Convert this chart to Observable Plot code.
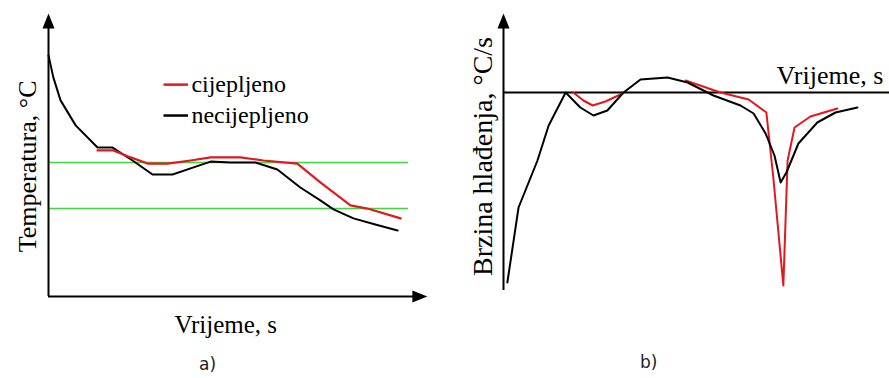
<!DOCTYPE html>
<html>
<head>
<meta charset="utf-8">
<script src="https://cdn.jsdelivr.net/npm/d3@7"></script>
<script src="https://cdn.jsdelivr.net/npm/@observablehq/plot@0.6"></script>
<style>
  body { margin: 0; background: #fff; }
  #wrap { display: flex; width: 889px; height: 378px; overflow: hidden; }
  #wrap svg { display: block; background: #fff; }
  #wrap svg text.serif { font-family: "Liberation Serif", "Times New Roman", serif; }
</style>
</head>
<body>
<div id="wrap"></div>
<script>
// ---------- data ----------
const seriesNames = ["cijepljeno", "necijepljeno"];
const seriesColors = ["#e0191f", "#000000"];
const phaseColor = "#3fd83f";

// a) cooling curves: time (arbitrary units) and temperature (arbitrary units)
const tempTimeNecij = [0, 1.3, 3.2, 7.2, 13.0, 17.0, 22.3, 27.6, 32.9, 37.7, 43.0, 48.3, 54.9, 60.7, 66.8, 72.1, 75.6, 80.9, 86.7, 92.6];
const tempNecij     = [85.8, 77.9, 69.8, 60.9, 53.0, 53.0, 48.4, 43.4, 43.4, 45.6, 48.0, 47.7, 47.7, 45.2, 38.8, 34.2, 31.0, 27.8, 25.6, 23.5];
const tempTimeCij   = [13.0, 17.2, 21.8, 26.3, 31.6, 37.7, 43.0, 50.9, 57.0, 66.0, 72.1, 80.1, 84.6, 93.4];
const tempCij       = [52.0, 52.0, 49.5, 47.3, 47.3, 48.4, 49.5, 49.5, 48.4, 47.3, 40.6, 32.4, 31.3, 27.8];
const phaseTemps    = [47.7, 31.3];
const phaseLineEnd  = 95.5;

// b) cooling rate curves: time and rate (arbitrary units), null = gap
const rateTimeNecij = [1.0, 3.9, 8.8, 11.7, 16.1, 19.9, 23.3, 26.9, 31.1, 35.5, 42.5, 47.7, 54.4, 61.4, 64.8, 67.9, 70.2, 71.8, 73.3, 76.4, 81.3, 86.0, 91.7];
const rateNecij     = [-95, -57.5, -34, -16.5, 0, -7.5, -11.5, -9, 0, 6.5, 7.5, 5, -1.5, -6.5, -10.5, -20.5, -31.5, -45, -40, -25.5, -15, -10, -7.5];
const rateTimeCij   = [18.1, 20.7, 23.1, 26.4, 30.3, 38.0, 47.2, 56.2, 63.5, 68.1, 69.9, 72.5, 73.6, 75.4, 79.5, 86.5];
const rateCij       = [0, -4, -6.5, -4.5, -1, null, 6, 0, -3.5, -10, -42.5, -96.5, -34, -17.5, -12, -8];

// text
const leftXLabel = "Vrijeme, s";
const leftYLabel = "Temperatura, °C";
const rightXLabel = "Vrijeme, s";
const rightYLabel = "Brzina hlađenja, °C/s";
const panelLabels = ["a)", "b)"];

// ---------- helpers ----------
const zip = (xs, ys) => xs.map((x, i) => ({x, y: ys[i]}));
const arrowUp = {draw(ctx) { ctx.moveTo(0, 0); ctx.lineTo(-6, 15); ctx.lineTo(6, 15); ctx.closePath(); }};
const arrowRight = {draw(ctx) { ctx.moveTo(0, 0); ctx.lineTo(-15, -6); ctx.lineTo(-15, 6); ctx.closePath(); }};
const serif = "'Liberation Serif', 'Times New Roman', serif";
const sans = "'DejaVu Sans', sans-serif";
const serifText = {fontFamily: serif, className: "serif", fill: "#000"};

// ---------- panel a ----------
const legendY = [75.4, 64.4];
const left = Plot.plot({
  width: 445, height: 378,
  marginLeft: 48, marginRight: 20, marginTop: 15, marginBottom: 82,
  x: {domain: [0, 100], axis: null},
  y: {domain: [0, 100], axis: null},
  style: {background: "#fff"},
  marks: [
    Plot.ruleY(phaseTemps, {x1: 0, x2: phaseLineEnd, stroke: phaseColor, strokeWidth: 1.5}),
    Plot.line(zip(tempTimeNecij, tempNecij), {x: "x", y: "y", stroke: seriesColors[1], strokeWidth: 2}),
    Plot.line(zip(tempTimeCij, tempCij), {x: "x", y: "y", stroke: seriesColors[0], strokeWidth: 2.2}),
    // axes
    Plot.ruleX([0], {y1: 0, y2: 97, stroke: "#000", strokeWidth: 2}),
    Plot.ruleY([0], {x1: 0, x2: 97, stroke: "#000", strokeWidth: 2}),
    Plot.dot([0], {x: 0, y: 100.7, symbol: arrowUp, r: 6, fill: "#000", stroke: "none"}),
    Plot.dot([0], {x: 100.5, y: 0, symbol: arrowRight, r: 6, fill: "#000", stroke: "none"}),
    // legend
    Plot.link(seriesNames, {x1: 30.5, x2: 37.0, y1: (d, i) => legendY[i], y2: (d, i) => legendY[i], stroke: (d, i) => seriesColors[i], strokeWidth: 2.5}),
    Plot.text(seriesNames, {...serifText, x: 37.9, y: (d, i) => legendY[i], text: d => d, textAnchor: "start", fontSize: 24}),
    // labels
    Plot.text([leftXLabel], {...serifText, x: 47, y: -10.3, text: d => d, fontSize: 25}),
    Plot.text([leftYLabel], {...serifText, x: -5.6, y: 46.3, text: d => d, fontSize: 26, rotate: -90}),
    Plot.text([panelLabels[0]], {x: 42.2, y: -24.2, text: d => d, fontSize: 17, fontFamily: sans, fill: "#222"})
  ]
});

// ---------- panel b ----------
const right = Plot.plot({
  width: 444, height: 378,
  marginLeft: 58, marginRight: 0, marginTop: 15, marginBottom: 88,
  x: {domain: [0, 100], axis: null},
  y: {domain: [-99, 38.5], axis: null},
  style: {background: "#fff"},
  marks: [
    Plot.ruleY([0], {x1: 0, x2: 100, stroke: "#000", strokeWidth: 2}),
    Plot.ruleX([0], {y1: -99, y2: 36, stroke: "#000", strokeWidth: 2}),
    Plot.dot([0], {x: 0, y: 39.5, symbol: arrowUp, r: 6, fill: "#000", stroke: "none"}),
    Plot.line(zip(rateTimeCij, rateCij), {x: "x", y: "y", stroke: seriesColors[0], strokeWidth: 2}),
    Plot.line(zip(rateTimeNecij, rateNecij), {x: "x", y: "y", stroke: seriesColors[1], strokeWidth: 2}),
    Plot.text([rightXLabel], {...serifText, x: 98.4, y: 8.35, text: d => d, textAnchor: "end", fontSize: 26}),
    Plot.text([rightYLabel], {...serifText, x: -5.2, y: -32, text: d => d, fontSize: 28, rotate: -90}),
    Plot.text([panelLabels[1]], {x: 37.6, y: -135, text: d => d, fontSize: 17, fontFamily: sans, fill: "#222"})
  ]
});

document.getElementById("wrap").append(left, right);
</script>
</body>
</html>
